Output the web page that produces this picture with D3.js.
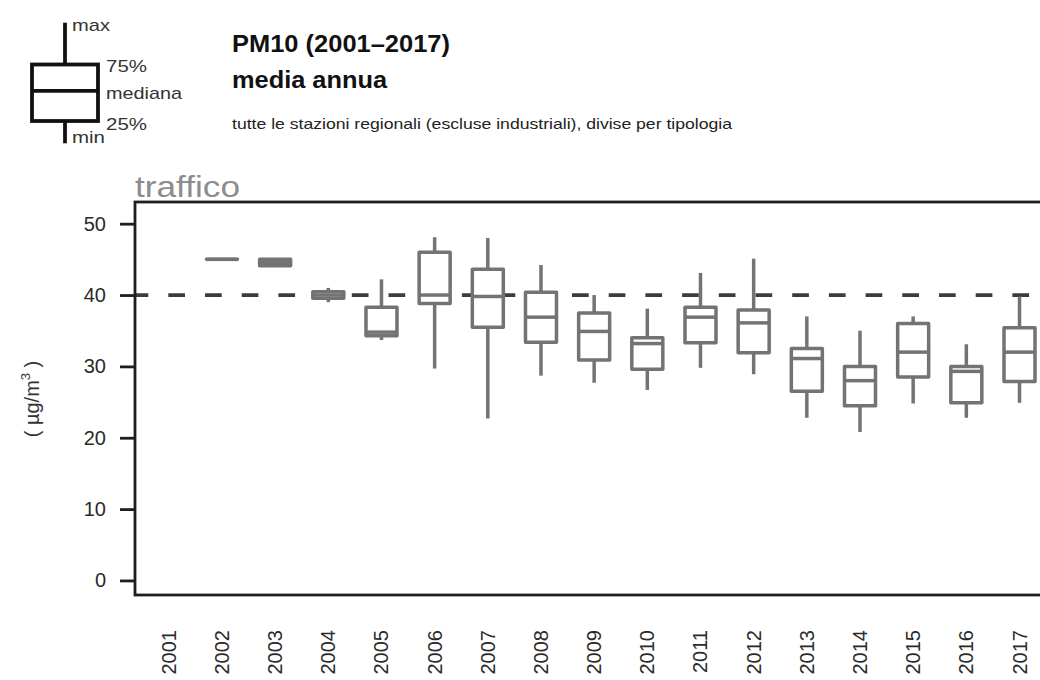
<!DOCTYPE html>
<html>
<head>
<meta charset="utf-8">
<script src="https://cdn.jsdelivr.net/npm/d3@7"></script>
<style>
  html, body { margin: 0; padding: 0; background: #fff; }
  svg { display: block; font-family: "Liberation Sans", Arial, Helvetica, sans-serif; }
</style>
</head>
<body>
<svg id="chart" width="1040" height="680"></svg>
<script>
// ---- data ----
const years   = [2001, 2002, 2003, 2004, 2005, 2006, 2007, 2008, 2009, 2010, 2011, 2012, 2013, 2014, 2015, 2016, 2017];
const mins    = [null, 45, 44.1, 39.0, 33.7, 29.7, 22.7, 28.7, 27.7, 26.7, 29.8, 28.9, 22.8, 20.8, 24.8, 22.8, 24.9];
const q1s     = [null, 45, 44.1, 39.55, 34.3, 38.8, 35.5, 33.4, 30.9, 29.6, 33.3, 31.9, 26.5, 24.5, 28.5, 24.9, 27.9];
const medians = [null, 45, 44.55, 40.0, 34.8, 40.0, 39.8, 36.9, 34.9, 33.2, 36.9, 36.1, 31.1, 28.0, 32.0, 29.3, 32.0];
const q3s     = [null, 45, 45.0, 40.45, 38.3, 46.0, 43.6, 40.4, 37.5, 34.0, 38.3, 37.9, 32.5, 30.0, 36.0, 30.0, 35.4];
const maxs    = [null, 45, 45.0, 41.0, 42.2, 48.1, 48.0, 44.2, 40.0, 38.1, 43.1, 45.1, 37.0, 35.0, 37.0, 33.1, 39.8];
const yTicks  = [0, 10, 20, 30, 40, 50];
const limitValue = 40;

const titleLines = ["PM10 (2001\u20132017)", "media annua"];
const subtitle = "tutte le stazioni regionali (escluse industriali), divise per tipologia";
const panelTitle = "traffico";
const legendLabels = ["max", "75%", "mediana", "25%", "min"];

// ---- layout ----
const svg = d3.select("#chart");
const frame = { left: 135, top: 202, right: 1062, bottom: 595 };

const x = d3.scalePoint().domain(years).range([168.8, 1019.5]);
const y = d3.scaleLinear().domain([-2.04, 53.04]).range([frame.bottom, frame.top]);

const boxColor = "#737373";
const boxW = 31;
const sw = 3.5;
const rows = years.map((yr, i) => ({ year: yr, min: mins[i], q1: q1s[i], med: medians[i], q3: q3s[i], max: maxs[i] }))
                  .filter(d => d.med !== null);

// clip for plot region
svg.append("defs").append("clipPath").attr("id", "plotclip")
  .append("rect").attr("x", frame.left).attr("y", frame.top)
  .attr("width", frame.right - frame.left).attr("height", frame.bottom - frame.top);

const plot = svg.append("g").attr("clip-path", "url(#plotclip)");

// limit line (dashed)
plot.append("line")
  .attr("x1", frame.left).attr("x2", frame.right)
  .attr("y1", y(limitValue)).attr("y2", y(limitValue))
  .attr("stroke", "#3c3c3c").attr("stroke-width", 3.8)
  .attr("stroke-dasharray", "16.7 20").attr("stroke-dashoffset", 3.4);

// boxes
const g = plot.selectAll("g.box").data(rows).join("g").attr("class", "box");
g.append("line")
  .attr("x1", d => x(d.year)).attr("x2", d => x(d.year))
  .attr("y1", d => y(d.q3)).attr("y2", d => y(d.max))
  .attr("stroke", boxColor).attr("stroke-width", sw);
g.append("line")
  .attr("x1", d => x(d.year)).attr("x2", d => x(d.year))
  .attr("y1", d => y(d.q1)).attr("y2", d => y(d.min))
  .attr("stroke", boxColor).attr("stroke-width", sw);
g.append("path")
  .attr("d", d => {
    const x0 = x(d.year) - boxW / 2, x1 = x(d.year) + boxW / 2;
    const yt = y(d.q3), yb = y(d.q1);
    return `M${x0},${yt}H${x1}V${yb}H${x0}Z`;
  })
  .attr("fill", "#fff").attr("stroke", boxColor).attr("stroke-width", sw)
  .attr("stroke-linejoin", "round");
g.append("line")
  .attr("x1", d => x(d.year) - boxW / 2).attr("x2", d => x(d.year) + boxW / 2)
  .attr("y1", d => y(d.med)).attr("y2", d => y(d.med))
  .attr("stroke", boxColor).attr("stroke-width", sw);

// frame
svg.append("rect")
  .attr("x", frame.left).attr("y", frame.top)
  .attr("width", frame.right - frame.left).attr("height", frame.bottom - frame.top)
  .attr("fill", "none").attr("stroke", "#1e1e1e").attr("stroke-width", 2.8);

// y axis
const yAxis = svg.append("g").attr("transform", `translate(${frame.left},0)`)
  .call(d3.axisLeft(y).tickValues(yTicks).tickSize(15).tickPadding(14));
yAxis.select(".domain").remove();
yAxis.selectAll(".tick line").attr("stroke", "#1e1e1e").attr("stroke-width", 2.8);
yAxis.selectAll(".tick text").attr("font-size", 20).attr("fill", "#2a2a2a")
  .attr("font-family", "Liberation Sans, Arial, sans-serif");

// x labels (rotated)
svg.append("g").selectAll("text").data(years).join("text")
  .attr("transform", d => `translate(${x(d)},630) rotate(-90)`)
  .attr("text-anchor", "end").attr("dy", "0.35em")
  .attr("font-size", 20).attr("fill", "#2a2a2a")
  .text(d => d);

// y axis title
const yt = svg.append("text")
  .attr("transform", "translate(39,399) rotate(-90)")
  .attr("text-anchor", "middle").attr("font-size", 20).attr("fill", "#333");
yt.append("tspan").text("( \u00b5g/m");
yt.append("tspan").attr("font-size", 13).attr("dy", -9).text("3");
yt.append("tspan").attr("dy", 9).text(" )");

// panel title
svg.append("text").attr("x", 135).attr("y", 197)
  .attr("font-size", 30).attr("fill", "#8c8c8c")
  .attr("textLength", 105).attr("lengthAdjust", "spacingAndGlyphs")
  .text(panelTitle);

// main titles
svg.append("text").attr("x", 232).attr("y", 52)
  .attr("font-size", 24).attr("font-weight", "bold").attr("fill", "#111")
  .attr("textLength", 218).attr("lengthAdjust", "spacingAndGlyphs")
  .text(titleLines[0]);
svg.append("text").attr("x", 232).attr("y", 88)
  .attr("font-size", 24).attr("font-weight", "bold").attr("fill", "#111")
  .attr("textLength", 155).attr("lengthAdjust", "spacingAndGlyphs")
  .text(titleLines[1]);
svg.append("text").attr("x", 232).attr("y", 129)
  .attr("font-size", 15).attr("fill", "#222")
  .attr("textLength", 500).attr("lengthAdjust", "spacingAndGlyphs")
  .text(subtitle);

// legend icon
const lg = svg.append("g");
lg.append("line").attr("x1", 65).attr("x2", 65).attr("y1", 22.7).attr("y2", 64.5)
  .attr("stroke", "#111").attr("stroke-width", 3.8);
lg.append("line").attr("x1", 65).attr("x2", 65).attr("y1", 121).attr("y2", 143.3)
  .attr("stroke", "#111").attr("stroke-width", 3.8);
lg.append("rect").attr("x", 32).attr("y", 64.5).attr("width", 66).attr("height", 56.5)
  .attr("fill", "none").attr("stroke", "#111").attr("stroke-width", 3.8);
lg.append("line").attr("x1", 32).attr("x2", 98).attr("y1", 90.8).attr("y2", 90.8)
  .attr("stroke", "#111").attr("stroke-width", 3.8);

const legendPos = [
  { x: 72, y: 31, w: 38 },
  { x: 106, y: 72, w: 41 },
  { x: 106, y: 99, w: 76 },
  { x: 106, y: 130, w: 41 },
  { x: 72, y: 143, w: 33 }
];
lg.selectAll("text.lbl").data(legendLabels).join("text").attr("class", "lbl")
  .attr("x", (d, i) => legendPos[i].x).attr("y", (d, i) => legendPos[i].y)
  .attr("font-size", 17).attr("fill", "#333")
  .attr("textLength", (d, i) => legendPos[i].w).attr("lengthAdjust", "spacingAndGlyphs")
  .text(d => d);
</script>
</body>
</html>
